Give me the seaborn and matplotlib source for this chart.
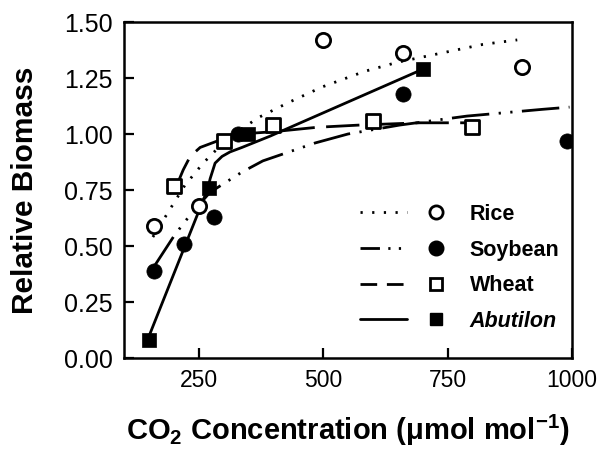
import matplotlib
matplotlib.use("Agg")
import matplotlib.pyplot as plt
import seaborn as sns
import numpy as np
from matplotlib.lines import Line2D
from matplotlib.legend_handler import HandlerTuple

# ---- data: measured points ----
rice_x = [160, 250, 500, 660, 900]
rice_y = [0.59, 0.68, 1.42, 1.36, 1.30]
soy_x = [160, 220, 280, 330, 660, 990]
soy_y = [0.39, 0.51, 0.63, 1.00, 1.18, 0.97]
wheat_x = [200, 300, 400, 600, 800]
wheat_y = [0.77, 0.97, 1.04, 1.06, 1.03]
abut_x = [150, 270, 350, 700]
abut_y = [0.08, 0.76, 1.00, 1.29]

# ---- data: fitted curves ----
rice_fit_x = [158, 194, 222, 259, 299, 367, 430, 498, 584, 649, 735, 821, 890]
rice_fit_y = [0.54, 0.67, 0.77, 0.87, 0.96, 1.07, 1.14, 1.21, 1.28, 1.32, 1.36, 1.40, 1.42]
soy_fit_x = [158, 202, 237, 273, 337, 379, 484, 550, 654, 789, 940, 995]
soy_fit_y = [0.40, 0.55, 0.65, 0.74, 0.83, 0.88, 0.96, 1.00, 1.04, 1.08, 1.11, 1.12]
wheat_fit_x = [202, 219, 233, 253, 289, 333, 399, 488, 574, 695, 789]
wheat_fit_y = [0.75, 0.84, 0.90, 0.94, 0.97, 1.00, 1.01, 1.03, 1.04, 1.05, 1.05]
abut_fit_x = [148, 269, 273, 283, 297, 313, 337, 393, 701]
abut_fit_y = [0.085, 0.76, 0.80, 0.87, 0.90, 0.92, 0.94, 0.99, 1.29]

labels = ["Rice", "Soybean", "Wheat", "Abutilon"]
x_ticks = [250, 500, 750, 1000]
y_ticks = [0.00, 0.25, 0.50, 0.75, 1.00, 1.25, 1.50]

sns.set_style("ticks")
plt.rcParams["font.family"] = ["Liberation Sans", "DejaVu Sans"]
plt.rcParams["mathtext.fontset"] = "custom"
plt.rcParams["mathtext.rm"] = "Liberation Sans:bold"
plt.rcParams["mathtext.it"] = "Liberation Sans:bold:italic"
plt.rcParams["mathtext.bf"] = "Liberation Sans:bold"
for k in ["text.color", "axes.labelcolor", "xtick.color", "ytick.color", "axes.edgecolor"]:
    plt.rcParams[k] = "black"

fig = plt.figure(figsize=(6.06, 4.5), dpi=100)
ax = fig.add_axes([124/606, 1-358/450, 448/606, 336/450])

lw = 2.0
styles = [(0, (0.8, 3.4)), (0, (13.5, 3.4, 0.8, 3.4, 0.8, 3.4)), (0, (12, 4.1)), "-"]
fits = [(rice_fit_x, rice_fit_y), (soy_fit_x, soy_fit_y),
        (wheat_fit_x, wheat_fit_y), (abut_fit_x, abut_fit_y)]
for (fx, fy), ls in zip(fits, styles):
    sns.lineplot(x=fx, y=fy, ax=ax, color="black", linewidth=lw,
                 sort=False, estimator=None)
    ax.lines[-1].set_linestyle(ls)

sns.scatterplot(x=rice_x, y=rice_y, ax=ax, marker="o", s=105,
                color="white", edgecolor="black", linewidth=2.0, zorder=5)
sns.scatterplot(x=soy_x, y=soy_y, ax=ax, marker="o", s=120,
                color="black", edgecolor="black", linewidth=0.5, zorder=5)
sns.scatterplot(x=wheat_x, y=wheat_y, ax=ax, marker="s", s=90,
                color="white", edgecolor="black", linewidth=2.0, zorder=5)
sns.scatterplot(x=abut_x, y=abut_y, ax=ax, marker="s", s=90,
                color="black", edgecolor="black", linewidth=0.5, zorder=5)

ax.set_xlim(100, 1000)
ax.set_ylim(0, 1.5)
ax.set_xticks(x_ticks)
ax.set_xticklabels([str(v) for v in x_ticks])
ax.set_yticks(y_ticks)
ax.set_yticklabels([f"{v:.2f}" for v in y_ticks])
ax.tick_params(direction="in", length=7, width=1.6, labelsize=16.5, pad=8)
ax.tick_params(axis="y", labelsize=18)
for s in ax.spines.values():
    s.set_visible(True)
    s.set_linewidth(1.8)
    s.set_color("black")

ax.set_xlabel("CO$_2$ Concentration (μmol mol$^{-1}$)", fontsize=21,
              fontweight="bold", labelpad=15)
ax.set_ylabel("Relative Biomass", fontsize=21.5, fontweight="bold", labelpad=18)

# legend
leg_line_styles = [(0, (0.8, 3.4)), (0, (7, 3, 0.8, 3, 0.8, 3)), (0, (6, 3.5)), "-"]
leg_markers = [
    Line2D([], [], marker="o", linestyle="none", markersize=9.5,
           markerfacecolor="white", markeredgecolor="black", markeredgewidth=2.0),
    Line2D([], [], marker="o", linestyle="none", markersize=10.5,
           markerfacecolor="black", markeredgecolor="black"),
    Line2D([], [], marker="s", linestyle="none", markersize=8.5,
           markerfacecolor="white", markeredgecolor="black", markeredgewidth=2.0),
    Line2D([], [], marker="s", linestyle="none", markersize=8,
           markerfacecolor="black", markeredgecolor="black"),
]
handles = []
for ls, m in zip(leg_line_styles, leg_markers):
    ln = Line2D([], [], color="black", linewidth=lw, linestyle=ls)
    handles.append((ln, m))
leg = ax.legend(handles, labels, handler_map={tuple: HandlerTuple(ndivide=None, pad=0.26)},
                loc="upper left", bbox_to_anchor=((360-124)/448, (358-204)/336),
                frameon=False, handlelength=4.6, handletextpad=0.5,
                labelspacing=0.68, borderpad=0, borderaxespad=0,
                prop={"weight": "bold", "size": 15.5})
leg.get_texts()[3].set_fontstyle("italic")

fig.savefig("out.png", dpi=100)
